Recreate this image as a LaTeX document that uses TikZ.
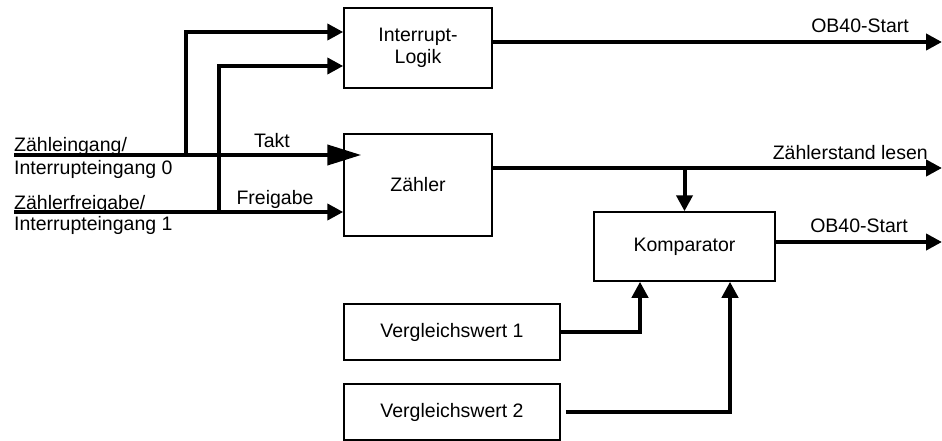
\documentclass[tikz,border=0pt]{standalone}
\usepackage{fontspec}
\setmainfont{Liberation Sans}
\usetikzlibrary{arrows.meta}
\begin{document}
\begin{tikzpicture}[x=1pt,y=-1pt,
  every node/.style={font=\fontsize{19.5}{22}\selectfont},
  blk/.style={draw,line width=1.5pt,inner sep=0pt,align=center},
  lbl/.style={inner sep=0pt},
  sig/.style={line width=4pt},
  arr/.style={sig,-{Triangle[length=16pt,width=16pt]}},
  clk/.style={sig,-{Triangle[length=34pt,width=20pt]}}]
\useasboundingbox (0,0) rectangle (942,441);
% blocks
\node[blk,minimum width=148pt,minimum height=80pt] (il) at (418,48) {Interrupt-\\Logik};
\node[blk,minimum width=148pt,minimum height=102pt] (zl) at (418,185) {Zähler};
\node[blk,minimum width=181pt,minimum height=69pt] (ko) at (684.5,246.5) {Komparator};
\node[blk,minimum width=216pt,minimum height=56pt] (v1) at (452,332) {Vergleichswert 1};
\node[blk,minimum width=216pt,minimum height=56pt] (v2) at (452,412) {Vergleichswert 2};
% input coordinates
\coordinate (in0) at (14,155);
\coordinate (in1) at (14,212);
\coordinate (j0) at (186,155);
\coordinate (j1) at (219,212);
% outputs
\coordinate (o0) at (942,42);
\coordinate (o1) at (942,168);
\coordinate (o2) at (942,242);
% connectors
\draw[clk] (in0) -- ([xshift=18pt]zl.west |- in0);
\draw[arr] (in1) -- (zl.west |- in1);
\draw[arr] (j0) |- ([yshift=16pt]il.west);
\draw[arr] (j1) |- ([yshift=-18pt]il.west);
\draw[arr] (il.east |- o0) -- (o0);
\draw[arr] (zl.east |- o1) -- (o1);
\draw[arr] (ko.north |- o1) -- (ko.north);
\draw[arr] (ko.east |- o2) -- (o2);
\draw[arr] (v1.east) -| ([xshift=-44.5pt]ko.south);
\draw[arr] ([xshift=5pt]v2.east) -| ([xshift=45.5pt]ko.south);
% labels
\node[lbl,anchor=base] (tTakt) at (272,147) {Takt};
\node[lbl,anchor=base] (tFrei) at (275,204) {Freigabe};
\node[lbl,anchor=base west] (tin0a) at (14,152) {Zähleingang/};
\node[lbl,anchor=base west] (tin0b) at (14,175) {Interrupteingang 0};
\node[lbl,anchor=base west] (tin1a) at (14,209) {Zählerfreigabe/};
\node[lbl,anchor=base west] (tin1b) at (14,230) {Interrupteingang 1};
\node[lbl,anchor=base east] (tob1) at (909,33) {OB40-Start};
\node[lbl,anchor=base east] (tzs) at (928,159) {Zählerstand lesen};
\node[lbl,anchor=base east] (tob2) at (908,232) {OB40-Start};
\end{tikzpicture}
\end{document}
